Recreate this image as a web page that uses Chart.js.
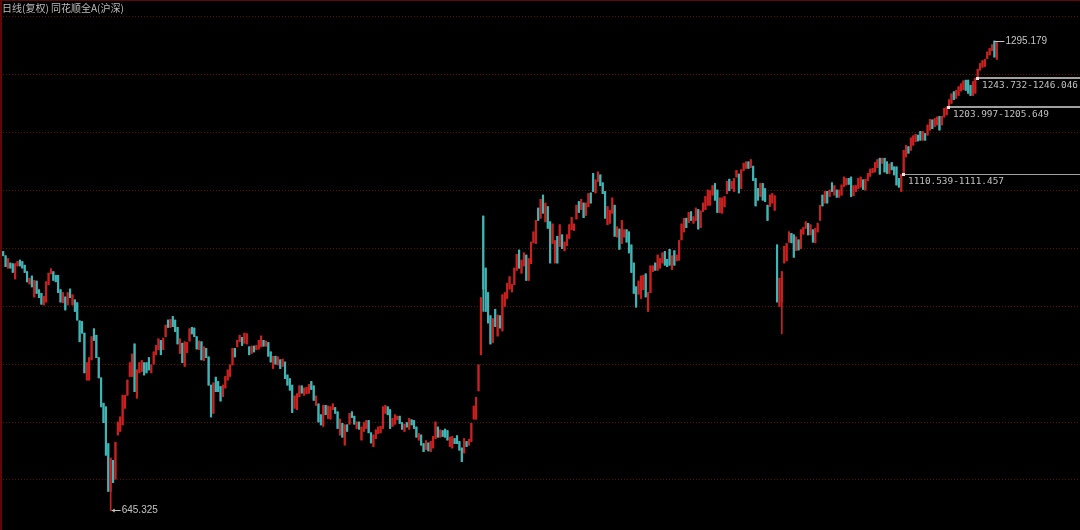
<!DOCTYPE html>
<html>
<head>
<meta charset="utf-8">
<script src="https://cdn.jsdelivr.net/npm/chart.js@4.4.1/dist/chart.umd.min.js"></script>
<style>
html,body{margin:0;padding:0;background:#000;}
#wrap{position:relative;width:1080px;height:530px;background:#000;}
</style>
</head>
<body>
<div id="wrap"><canvas id="kline"></canvas></div>
<script>
/* 日线(复权) 同花顺全A(沪深) — daily candles */
const TITLE = '日线(复权) 同花顺全A(沪深)';

const open = [
1004,998,981,988,987,966,984,992,990,985, 976,959,970,941,963,951,946,930,934,958,
973,976,971,971,951,933,941,930,952,930, 937,933,908,907,891,826,826,854,897,888,
857,829,794,789,738,672,715,689,750,755, 764,787,805,831,831,876,801,836,838,850,
850,857,836,848,861,868,881,868,886,909, 899,914,909,899,863,877,845,864,880,899,
898,886,868,879,853,870,858,819,780,830, 824,817,803,815,826,831,847,870,872,879,
885,877,876,872,863,873,868,869,872,881, 873,878,865,842,859,847,854,845,851,833,
828,819,787,785,803,818,805,807,808,824, 818,791,793,778,762,791,773,772,785,788,
782,750,766,736,764,765,782,776,759,768, 743,755,759,770,753,734,745,752,753,759,
780,789,785,762,765,771,776,767,755,767, 758,771,770,761,743,750,738,730,739,727,
732,745,761,747,756,758,756,734,732,745, 749,741,732,725,741,736,741,772,772,811,
861,1053,981,947,915,878,924,887,915,894, 928,939,952,948,958,978,1006,974,984,999,
964,987,1016,1015,1064,1050,1082,1045,1066,1045, 1015,988,1025,1011,1027,1005,1012,1022,1034,1033,
1049,1073,1062,1071,1054,1066,1085,1112,1085,1101, 1110,1099,1087,1041,1043,1057,1068,1024,1035,1015,
1024,1034,1031,1013,988,955,945,939,951,973, 921,947,976,988,978,981,988,1004,993,1007,
979,1005,991,992,1020,1031,1050,1044,1059,1043, 1047,1062,1037,1059,1062,1068,1068,1082,1098,1089,
1058,1057,1066,1084,1104,1091,1087,1107,1111,1091, 1116,1119,1128,1120,1122,1105,1091,1080,1098,1091,
1068,1066,1071,1061,1013,928,935,988,991,1017, 1029,1027,1005,1020,1008,1028,1036,1043,1027,1034,
1016,1031,1047,1082,1071,1087,1080,1099,1082,1089, 1079,1082,1094,1096,1105,1107,1081,1087,1091,1093,
1103,1089,1102,1108,1113,1114,1120,1133,1126,1133, 1128,1112,1127,1121,1121,1105,1087,1111.457,1135,1149,
1144,1151,1156,1165,1170,1158,1167,1165,1172,1186, 1177,1179,1191,1179,1190,1193,1205.649,1209,1225,1216,
1220,1226,1228,1241,1241,1234,1220,1223,1246.046,1255, 1259,1260,1271,1276,1282,1295.179,1270];

const close = [
998,983,994,981,975,987,990,984,981,975, 962,967,955,964,946,940,931,942,962,974,
980,964,962,947,934,947,923,947,940,944, 921,909,879,891,836,850,857,886,881,857,
829,789,767,722,672,718,684,740,768,775, 805,805,826,850,862,810,840,850,853,833,
836,840,847,865,874,883,861,884,902,899, 910,900,893,876,883,850,879,878,897,890,
886,869,880,854,872,857,819,775,822,810, 810,797,819,831,840,847,870,858,881,888,
874,891,890,861,873,865,874,881,887,873, 880,859,851,859,848,858,842,855,828,819,
812,781,804,807,818,808,815,816,820,813, 798,804,768,764,791,778,790,789,793,780,
759,772,747,764,755,780,774,765,768,758, 761,767,770,753,739,750,757,761,762,789,
791,778,759,773,778,776,766,758,765,761, 773,764,759,747,752,736,727,742,728,741,
748,768,747,757,748,747,743,747,748,738, 738,729,713,745,734,744,766,790,802,847,
940,952,921,905,876,911,900,916,898,944, 947,960,969,958,981,1000,981,992,1002,964,
994,1017,1031,1047,1047,1076,1057,1071,1036,988, 1042,1019,988,1041,1008,1017,1027,1041,1051,1042,
1068,1058,1076,1051,1071,1084,1071,1087,1103,1114, 1095,1084,1050,1066,1061,1078,1025,1038,1007,1047,
1034,1017,1002,975,946,927,963,970,971,941, 947,984,984,978,999,994,1002,985,983,985,
998,985,999,1019,1042,1050,1037,1058,1047,1052, 1064,1035,1060,1071,1080,1089,1088,1095,1075,1058,
1078,1078,1080,1101,1088,1101,1105,1116,1085,1117, 1126,1128,1119,1131,1102,1067,1075,1098,1075,1073,
1047,1082,1084,1081,934,967,976,1011,1015,1031, 1016,996,1024,1006,1034,1037,1045,1027,1041,1017,
1036,1043,1068,1067,1087,1071,1089,1087,1095,1079, 1089,1096,1107,1105,1097,1080,1095,1095,1105,1107,
1090,1104,1112,1118,1119,1127,1131,1111,1133,1114, 1112,1125,1117,1110,1096,1093,1110.539,1144,1151,1140,
1161,1164,1166,1157,1158,1170,1158,1179,1187,1174, 1188,1190,1172,1191,1202,1203.997,1214,1222,1214,1227,
1232,1236,1240,1227,1223,1220,1239,1243.732,1256,1264, 1268,1270,1280,1285,1290,1273,1293];

const high = [
1004,998,994,988,987,987,990,992,990,985, 976,967,970,964,963,951,946,942,962,974,
980,976,971,971,951,947,941,947,952,944, 937,933,908,907,891,850,857,886,897,888,
857,829,794,789,738,718,715,740,768,775, 805,805,826,850,862,876,840,850,853,850,
850,857,847,865,874,883,881,884,902,909, 910,914,909,899,883,877,879,878,897,899,
898,886,880,879,872,870,858,819,822,830, 824,817,819,831,840,847,870,870,881,888,
885,891,890,872,873,873,874,881,887,881, 880,878,865,859,859,858,854,855,851,833,
828,819,804,807,818,818,815,816,820,824, 818,804,793,778,791,791,790,789,793,788,
782,772,766,764,764,780,782,776,768,768, 761,767,770,770,753,750,757,761,762,789,
791,789,785,773,778,776,776,767,765,767, 773,771,770,761,752,750,738,742,739,741,
748,768,761,757,756,758,756,747,748,745, 749,741,732,745,741,744,766,790,802,847,
940,1053,981,947,915,911,924,916,915,944, 947,960,969,958,981,1000,1006,992,1002,999,
994,1017,1031,1047,1064,1076,1082,1071,1066,1045, 1042,1019,1025,1041,1027,1017,1027,1041,1051,1042,
1068,1073,1076,1071,1071,1084,1085,1112,1103,1114, 1110,1099,1087,1066,1061,1078,1068,1038,1035,1047,
1034,1034,1031,1013,988,955,963,970,971,973, 947,984,984,988,999,994,1002,1004,993,1007,
998,1005,999,1019,1042,1050,1050,1058,1059,1052, 1064,1062,1060,1071,1080,1089,1088,1095,1098,1089,
1078,1078,1080,1101,1104,1101,1105,1116,1111,1117, 1126,1128,1128,1131,1122,1105,1091,1098,1098,1091,
1068,1082,1084,1081,1013,967,976,1011,1015,1031, 1029,1027,1024,1020,1034,1037,1045,1043,1041,1034,
1036,1043,1068,1082,1087,1087,1089,1099,1095,1089, 1089,1096,1107,1105,1105,1107,1095,1095,1105,1107,
1103,1104,1112,1118,1119,1127,1131,1133,1133,1133, 1128,1125,1127,1121,1121,1105,1110.539,1144,1151,1149,
1161,1164,1166,1165,1170,1170,1167,1179,1187,1186, 1188,1190,1191,1191,1202,1203.997,1214,1222,1225,1227,
1232,1236,1240,1241,1241,1234,1239,1243.732,1256,1264, 1268,1270,1280,1285,1290,1295.179,1293];

const low = [
998,983,981,981,975,966,984,984,981,975, 962,959,955,941,946,940,931,930,934,958,
973,964,962,947,934,933,923,930,940,930, 921,909,879,891,836,826,826,854,881,857,
829,789,767,722,672,645.325,684,689,750,755, 764,787,805,831,831,810,801,836,838,833,
836,840,836,848,861,868,861,868,886,899, 899,900,893,876,863,850,845,864,880,890,
886,869,868,854,853,857,819,775,780,810, 810,797,803,815,826,831,847,858,872,879,
874,877,876,861,863,865,868,869,872,873, 873,859,851,842,848,847,842,845,828,819,
812,781,787,785,803,808,805,807,808,813, 798,791,768,764,762,778,773,772,785,780,
759,750,747,736,755,765,774,765,759,758, 743,755,759,753,739,734,745,752,753,759,
780,778,759,762,765,771,766,758,755,761, 758,764,759,747,743,736,727,730,728,727,
732,745,747,747,748,747,743,734,732,738, 738,729,713,725,734,736,741,772,772,811,
861,921,921,905,876,878,900,887,898,894, 928,939,952,948,958,978,981,974,984,964,
964,987,1016,1015,1047,1050,1057,1045,1036,988, 1015,988,988,1011,1008,1005,1012,1022,1034,1033,
1049,1058,1062,1051,1054,1066,1071,1087,1085,1101, 1095,1084,1050,1041,1043,1057,1025,1024,1007,1015,
1024,1017,1002,975,946,927,945,939,951,941, 921,947,976,978,978,981,988,985,983,985,
979,985,991,992,1020,1031,1037,1044,1047,1043, 1047,1035,1037,1059,1062,1068,1068,1082,1075,1058,
1058,1057,1066,1084,1088,1091,1087,1107,1085,1091, 1116,1119,1119,1120,1102,1067,1075,1080,1075,1073,
1047,1066,1071,1061,934,928,890,988,991,1017, 1016,996,1005,1006,1008,1028,1036,1027,1027,1017,
1016,1031,1047,1067,1071,1071,1080,1087,1082,1079, 1079,1082,1094,1096,1097,1080,1081,1087,1091,1093,
1090,1089,1102,1108,1113,1114,1120,1111,1126,1114, 1112,1112,1117,1110,1096,1093,1087,1111.457,1135,1140,
1144,1151,1156,1157,1158,1158,1158,1165,1172,1174, 1177,1179,1172,1179,1190,1193,1205.649,1209,1214,1216,
1220,1226,1228,1227,1223,1220,1220,1223,1246.046,1255, 1259,1260,1271,1276,1282,1273,1270];

// price gaps (缺口): lower / upper bound and the first candle after the gap
const gapLow   = [1110.539, 1203.997, 1243.732];
const gapHigh  = [1111.457, 1205.649, 1246.046];
const gapStart = [377, 396, 408];

// horizontal grid levels
const gridLevels = [688.4, 768.6, 848.9, 929.1, 1009.4, 1089.6, 1169.9, 1250.1, 1330.4];

const days = open.map((_, i) => i);

if ([close, high, low].some(a => a.length !== open.length))
  throw new Error('series length mismatch ' + [open, close, high, low].map(a => a.length).join(','));

const UP = '#c92020', DN = '#3fb6b6';
const col = open.map((o, i) => close[i] >= o ? UP : DN);

const overlay = {
  id: 'overlay',
  beforeDatasetsDraw(chart) {
    const ctx = chart.ctx, ys = chart.scales.y;
    ctx.save();
    ctx.strokeStyle = '#6a0a0a'; ctx.lineWidth = 1; ctx.setLineDash([1, 2]);
    gridLevels.forEach(v => {
      const y = Math.round(ys.getPixelForValue(v)) + 0.5;
      ctx.beginPath(); ctx.moveTo(3, y); ctx.lineTo(chart.width, y); ctx.stroke();
    });
    ctx.restore();
  },
  afterDatasetsDraw(chart) {
    const ctx = chart.ctx, xs = chart.scales.x, ys = chart.scales.y, W = chart.width;
    ctx.save();
    // frame
    ctx.fillStyle = '#5e0808';
    ctx.fillRect(0, 0, 2, chart.height); ctx.fillRect(0, 0, W, 1);

    // gaps
    ctx.font = '9.4px "DejaVu Sans Mono", monospace'; ctx.textBaseline = 'top';
    gapLow.forEach((lo, k) => {
      const x = Math.round(xs.getPixelForValue(gapStart[k])) - 1;
      const y1 = ys.getPixelForValue(gapHigh[k]), y2 = ys.getPixelForValue(lo);
      ctx.strokeStyle = '#a0a0a0'; ctx.lineWidth = 1;
      ctx.strokeRect(x + 0.5, Math.round(y1) + 0.5, W - x, Math.max(0, Math.round(y2) - Math.round(y1)));
      ctx.fillStyle = '#e8e8e8'; ctx.fillRect(x - 1, Math.round(y2) - 1, 3, 3);
      ctx.fillStyle = '#c0c0c0';
      ctx.fillText(lo.toFixed(3) + '-' + gapHigh[k].toFixed(3), x + 5, Math.round(y2) + 3);
    });

    // extremes
    ctx.font = '10px "Liberation Sans", Arial, sans-serif'; ctx.textBaseline = 'middle';
    ctx.fillStyle = '#c4c4c4'; ctx.strokeStyle = '#c4c4c4'; ctx.lineWidth = 1;
    const hi = Math.max(...high), hiI = high.indexOf(hi);
    const hx = xs.getPixelForValue(hiI), hy = Math.round(ys.getPixelForValue(hi)) + 0.5;
    ctx.beginPath(); ctx.moveTo(hx, hy); ctx.lineTo(hx + 10, hy); ctx.stroke();
    ctx.fillText(hi.toFixed(3), hx + 11, hy);
    const lo = Math.min(...low), loI = low.indexOf(lo);
    const lx = xs.getPixelForValue(loI), ly = Math.round(ys.getPixelForValue(lo)) - 0.5;
    ctx.beginPath(); ctx.moveTo(lx + 1, ly); ctx.lineTo(lx + 10, ly); ctx.stroke();
    ctx.beginPath(); ctx.moveTo(lx + 1, ly); ctx.lineTo(lx + 4, ly - 2); ctx.lineTo(lx + 4, ly + 2); ctx.closePath(); ctx.fill();
    ctx.fillText(lo.toFixed(3), lx + 11, ly);

    // title
    ctx.font = '10px "Noto Sans CJK SC", sans-serif'; ctx.fillStyle = '#bdbdbd';
    ctx.fillText(TITLE, 2, 8.5);
    ctx.restore();
  }
};

new Chart(document.getElementById('kline'), {
  type: 'bar',
  data: {
    labels: days,
    datasets: [
      { label: 'hl', data: low.map((l, i) => [l, high[i]]), backgroundColor: col, barThickness: 1, grouped: false, order: 2 },
      { label: 'oc', data: open.map((o, i) => [o, close[i]]), backgroundColor: col, barThickness: 1.5, minBarLength: 1, grouped: false, order: 1 }
    ]
  },
  options: {
    responsive: true, maintainAspectRatio: false, animation: false, devicePixelRatio: 1,
    layout: { padding: { left: 2, right: 82, top: 0, bottom: 0 } },
    plugins: { legend: { display: false }, tooltip: { enabled: false } },
    scales: {
      x: { display: false, offset: true },
      y: { display: false, min: 618.5, max: 1352 }
    }
  },
  plugins: [overlay]
});
</script>
</body>
</html>
